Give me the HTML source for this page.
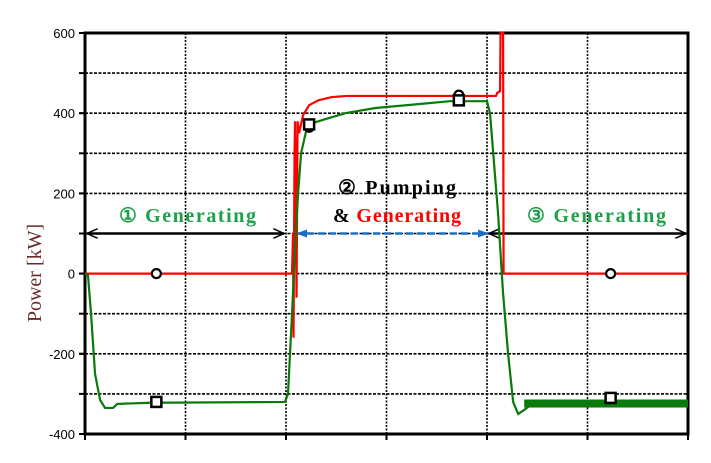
<!DOCTYPE html>
<html><head><meta charset="utf-8"><style>
html,body{margin:0;padding:0;background:#fff;}
svg{display:block;}
text{font-family:"Liberation Sans",sans-serif;}
.ser{font-family:"Liberation Serif",serif;font-weight:bold;}
</style></head><body>
<svg id="c" width="711" height="463" xmlns="http://www.w3.org/2000/svg"></svg>
<script>
const yTicks=[600,400,200,0,-200,-400];
const yGrid=[500,400,300,200,100,0,-100,-200,-300];
const xTicks=[0,10,20,30,40,50,60];
const greenT=[0,0.3,0.6,1,1.5,2,2.8,3.2,6.5,19.9,20.2,20.6,20.9,21.2,21.5,22,22.6,23.9,25.9,28.9,33.3,36.3,40,40.3,41.1,41.6,42.1,42.6,43.1,43.7,44.5,46.3,48,50,52,54,56,58,60];
const greenV=[0,-5,-100,-250,-315,-335,-335,-325,-322,-320,-300,-100,60,200,300,355,375,385,400,413,423,430,430,400,150,-50,-200,-320,-350,-340,-325,-322,-320,-322,-320,-321,-320,-322,-321];
const redT=[0,20.6,20.65,20.7,20.75,20.85,20.9,21.0,21.05,21.15,21.3,21.7,22.3,23.2,24.5,26,40.9,41.0,41.3,41.35,41.6,41.65,60];
const redV=[0,0,50,100,-160,300,380,100,-60,380,350,395,420,432,440,443,443,450,455,600,600,0,0];
const circT=[7.1,52.3,22.3,37.2];
const circV=[0,0,365,445];
const sqT=[7.1,52.3,22.3,37.2];
const sqV=[-320,-310,372,432];
const L=85,R=688,T=33,B=434;
const X=t=>L+(R-L)*t/60;
const Y=v=>T+(B-T)*(600-v)/1000;
const svg=document.getElementById('c');
const NS='http://www.w3.org/2000/svg';
function mk(tag,attrs,parent){const e=document.createElementNS(NS,tag);for(const k in attrs)e.setAttribute(k,attrs[k]);(parent||svg).appendChild(e);return e;}
yGrid.forEach(v=>{const e=mk('line',{x1:L,x2:R,y1:Y(v),y2:Y(v),stroke:'#000','stroke-width':1.6,'stroke-dasharray':'3,1.5'});

});
xTicks.slice(1,-1).forEach(t=>{const e=mk('line',{x1:X(t),x2:X(t),y1:T,y2:B,stroke:'#000','stroke-width':1.6,'stroke-dasharray':'2,1.5'});

});
const fr=mk('rect',{x:L,y:T,width:R-L,height:B-T,fill:'none',stroke:'#000','stroke-width':3});


yGrid.concat(yTicks).forEach(v=>{const e=mk('line',{x1:L-6,x2:L,y1:Y(v),y2:Y(v),stroke:'#000','stroke-width':2});

});
xTicks.forEach(t=>{const e=mk('line',{x1:X(t),x2:X(t),y1:B,y2:B+6,stroke:'#000','stroke-width':2});

});
yTicks.forEach(v=>{const e=mk('text',{x:L-10,y:Y(v)+5,'text-anchor':'end','font-size':13});e.textContent=v;

});
const yl=mk('text',{x:0,y:0,transform:'translate(41,273) rotate(-90)','text-anchor':'middle','font-size':20,fill:'#6b2a2a',style:'font-family:"Liberation Serif",serif'});yl.textContent='Power [kW]';


const defs=mk('defs',{});
defs.innerHTML='<marker id="ab" markerUnits="userSpaceOnUse" markerWidth="12" markerHeight="10" refX="11" refY="5" orient="auto-start-reverse"><path d="M0,0 L11,5 L0,10" fill="none" stroke="#000" stroke-width="1.5"/></marker><marker id="au" markerUnits="userSpaceOnUse" markerWidth="12" markerHeight="10" refX="11" refY="5" orient="auto-start-reverse"><path d="M0,1 L11,5 L0,9 z" fill="#1a6fc0"/></marker>';
const a1=mk('line',{x1:X(0)+2,x2:X(20)-2,y1:Y(100),y2:Y(100),stroke:'#000','stroke-width':2.5,'marker-start':'url(#ab)','marker-end':'url(#ab)'});


const a2=mk('line',{x1:X(21),x2:X(40.2),y1:Y(100),y2:Y(100),stroke:'#1a6fc0','stroke-width':2.5,'stroke-dasharray':'7,4','marker-start':'url(#au)','marker-end':'url(#au)'});


const a3=mk('line',{x1:X(40.2),x2:X(60)-2,y1:Y(100),y2:Y(100),stroke:'#000','stroke-width':2.5,'marker-start':'url(#ab)','marker-end':'url(#ab)'});


const rp=mk('polyline',{points:redT.map((t,i)=>X(t)+','+Y(redV[i])).join(' '),fill:'none',stroke:'#ff0000','stroke-width':2.2});


const gp=mk('polyline',{points:greenT.map((t,i)=>X(t)+','+Y(greenV[i])).join(' '),fill:'none',stroke:'#0a7a0a','stroke-width':2.2});


const noise=mk('rect',{x:X(43.7),y:Y(-314),width:X(60)-X(43.7),height:Y(-334)-Y(-314),fill:'#0a7a0a'});


circT.forEach((t,i)=>{const e=mk('circle',{cx:X(t),cy:Y(circV[i]),r:4.5,fill:'#fff',stroke:'#000','stroke-width':2.2});

});
sqT.forEach((t,i)=>{const e=mk('rect',{x:X(t)-5,y:Y(sqV[i])-5,width:10,height:10,fill:'#fff',stroke:'#000','stroke-width':2.5});

});
function txt(x,y,w,parts,name){const e=mk('text',{x:x,y:y,'font-size':20,class:'ser',textLength:w,lengthAdjust:'spacing'});parts.forEach(p=>{const s=mk('tspan',{fill:p[1]},e);s.textContent=p[0];});}
txt(119,222,137,[['①  Generating','#1ea048']],'phase1-label');
txt(338,194,118,[['②  Pumping','#000']],'phase2-label-pumping');
txt(333,222,128,[['& ','#000'],['Generating','#ff0000']],'phase2-label-generating');
txt(527,222,139,[['③  Generating','#1ea048']],'phase3-label');
</script>
</body></html>
